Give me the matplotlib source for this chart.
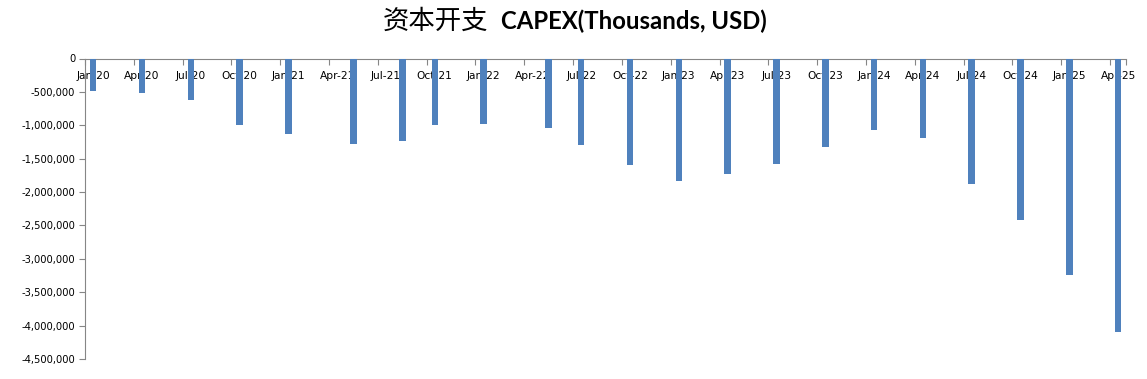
import matplotlib
matplotlib.use("Agg")
import matplotlib.pyplot as plt
from matplotlib.ticker import FuncFormatter, FixedLocator
import pandas as pd

# ---- data ----
report_months = ["2020-01", "2020-04", "2020-07", "2020-10", "2021-01", "2021-05",
                 "2021-08", "2021-10", "2022-01", "2022-05", "2022-07", "2022-10",
                 "2023-01", "2023-04", "2023-07", "2023-10", "2024-01", "2024-04",
                 "2024-07", "2024-10", "2025-01", "2025-04"]
capex = [-483000, -513000, -622000, -998000, -1128000, -1278000,
         -1233000, -998000, -982000, -1043000, -1297000, -1593000,
         -1833000, -1728000, -1583000, -1328000, -1068000, -1193000,
         -1878000, -2418000, -3243000, -4098000]
tick_labels = ["Jan-20", "Apr-20", "Jul-20", "Oct-20", "Jan-21", "Apr-21", "Jul-21",
               "Oct-21", "Jan-22", "Apr-22", "Jul-22", "Oct-22", "Jan-23", "Apr-23",
               "Jul-23", "Oct-23", "Jan-24", "Apr-24", "Jul-24", "Oct-24", "Jan-25",
               "Apr-25"]
y_ticks = [0, -500000, -1000000, -1500000, -2000000, -2500000, -3000000,
           -3500000, -4000000, -4500000]
title_cn = "资本开支"
title_en = "CAPEX(Thousands, USD)"

# ---- month-slot coordinates (Excel date axis, base unit = month) ----
start = pd.Period("2020-01", freq="M")
end = pd.Period("2025-04", freq="M")
def month_index(s):
    return (pd.Period(s, freq="M") - start).n
bar_x = [month_index(m) + 0.5 for m in report_months]
n_slots = (end - start).n + 1
tick_slots = [month_index(pd.to_datetime(l, format="%b-%y").strftime("%Y-%m")) for l in tick_labels]

W, H = 1147, 379
fig = plt.figure(figsize=(W / 100, H / 100), dpi=100)
ax = fig.add_axes([85 / W, 20 / H, 1041.3 / W, 300.5 / H])

bar_color = "#4F81BD"
ax.bar(bar_x, capex, width=0.4, color=bar_color, zorder=3)

ax.set_xlim(0, n_slots)
ax.set_ylim(-4500000, 0)

axis_gray = "#868686"
for s in ["top", "right"]:
    ax.spines[s].set_visible(False)
ax.spines["bottom"].set_position(("data", 0))
ax.spines["bottom"].set_color(axis_gray)
ax.spines["left"].set_color(axis_gray)

# x: labels centred in month slot, tick marks on slot boundaries
ax.xaxis.set_major_locator(FixedLocator([t + 0.5 for t in tick_slots]))
ax.set_xticklabels(tick_labels)
ax.xaxis.set_minor_locator(FixedLocator(tick_slots + [n_slots]))
ax.tick_params(axis="x", which="major", length=0, pad=9, labelsize=7.7, labelcolor="#000000")
ax.tick_params(axis="x", which="minor", length=4, width=0.8, color=axis_gray, direction="out")

ax.yaxis.set_major_locator(FixedLocator(y_ticks))
ax.yaxis.set_major_formatter(FuncFormatter(lambda v, p: "{:,.0f}".format(v)))
ax.tick_params(axis="y", length=4, width=0.8, color=axis_gray, labelsize=7.2, pad=3, labelcolor="#000000")

# title: Chinese regular + English bold
fig.text(488 / W, 350 / H, title_cn, ha="right", va="baseline",
         fontsize=19, family=["Noto Sans CJK SC", "DejaVu Sans"])
fig.text(501 / W, 350 / H, title_en, ha="left", va="baseline",
         fontsize=17.2, fontweight="bold", family=["Lato", "DejaVu Sans"])

fig.savefig("out.png", dpi=100)
